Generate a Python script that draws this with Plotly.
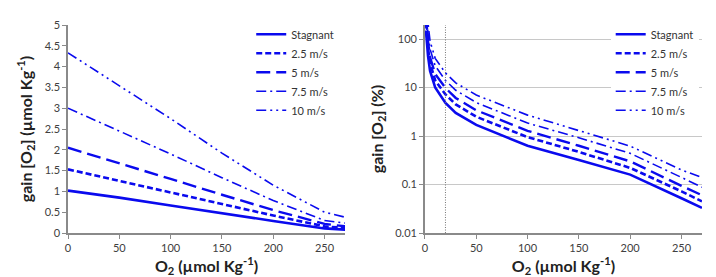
import plotly.graph_objects as go
from plotly.subplots import make_subplots

series_names = ["Stagnant", "2.5 m/s", "5 m/s", "7.5 m/s", "10 m/s"]

# Left panel: absolute gain (µmol/kg)
x_abs = [0, 50, 100, 150, 200, 250, 270]
gain_abs = {
    "Stagnant": [1.02, 0.85, 0.66, 0.47, 0.29, 0.11, 0.08],
    "2.5 m/s": [1.53, 1.25, 0.97, 0.69, 0.42, 0.16, 0.12],
    "5 m/s": [2.05, 1.68, 1.30, 0.92, 0.55, 0.22, 0.16],
    "7.5 m/s": [3.00, 2.45, 1.90, 1.33, 0.78, 0.30, 0.24],
    "10 m/s": [4.33, 3.55, 2.75, 1.92, 1.15, 0.50, 0.38],
}

# Right panel: relative gain (%)
x_rel = [1, 2, 3, 5, 10, 20, 30, 50, 100, 150, 200, 250, 270]
gain_rel = {
    "Stagnant": [150, 80, 45, 22, 10, 4.8, 3.0, 1.7, 0.63, 0.32, 0.16, 0.052, 0.033],
    "2.5 m/s": [220, 110, 65, 32, 14, 7.2, 4.5, 2.5, 0.95, 0.47, 0.22, 0.072, 0.045],
    "5 m/s": [300, 150, 90, 42, 19, 9.8, 6.1, 3.4, 1.28, 0.63, 0.30, 0.094, 0.060],
    "7.5 m/s": [400, 210, 130, 62, 28, 14, 8.8, 4.9, 1.85, 0.92, 0.44, 0.14, 0.088],
    "10 m/s": [500, 300, 180, 90, 40, 20, 12.5, 7.0, 2.7, 1.3, 0.62, 0.20, 0.14],
}

x_ticks = [0, 50, 100, 150, 200, 250]
left_y_ticks = [0, 0.5, 1, 1.5, 2, 2.5, 3, 3.5, 4, 4.5, 5]
left_y_labels = ["0", "0.5", "1", "1.5", "2", "2.5", "3", "3.5", "4", "4.5", "5"]
right_y_ticks = [0.01, 0.1, 1, 10, 100]
right_y_labels = ["0.01", "0.1", "1", "10", "100"]
threshold_x = 20

blue = "#0a0aee"
styles = {
    "Stagnant": dict(width=2.6, dash="solid"),
    "2.5 m/s": dict(width=2.6, dash="6px,3px"),
    "5 m/s": dict(width=2.4, dash="14px,6px"),
    "7.5 m/s": dict(width=1.6, dash="10px,4px,2px,4px"),
    "10 m/s": dict(width=1.6, dash="10px,4px,2px,4px,2px,4px"),
}

fig = make_subplots(rows=1, cols=2, horizontal_spacing=0.126)
fig.update_layout(template="none")

for name in series_names:
    fig.add_trace(go.Scatter(x=x_abs, y=gain_abs[name], mode="lines", name=name,
                             line=dict(color=blue, **styles[name]),
                             legend="legend"), row=1, col=1)
for name in series_names:
    fig.add_trace(go.Scatter(x=x_rel, y=gain_rel[name], mode="lines", name=name,
                             line=dict(color=blue, **styles[name]),
                             legend="legend2"), row=1, col=2)

font_family = "Lato, Open Sans, sans-serif"
tickfont = dict(family=font_family, size=11, color="#404040")
titlefont = dict(family=font_family, size=16, color="#222222")

axis_common = dict(showline=True, linecolor="#8a8a8a", linewidth=1.5,
                   ticks="outside", ticklen=4, tickcolor="#8a8a8a",
                   tickfont=tickfont, zeroline=False, automargin=False)

xtitle = "<b>O<sub>2</sub> (µmol Kg<sup>-1</sup>)</b>"
fig.update_xaxes(range=[0, 270], tickvals=x_ticks, showgrid=False,
                 title=dict(text=xtitle, font=titlefont, standoff=4), **axis_common)
fig.update_yaxes(range=[0, 5], tickvals=left_y_ticks, ticktext=left_y_labels,
                 showgrid=False,
                 title=dict(text="<b>gain [O<sub>2</sub>] (µmol Kg<sup>-1</sup>)</b>",
                            font=titlefont, standoff=8),
                 row=1, col=1, **axis_common)
fig.update_yaxes(type="log", range=[-2, 2.29], tickvals=right_y_ticks,
                 ticktext=right_y_labels, showgrid=True, gridcolor="#c8c8c8",
                 gridwidth=1,
                 title=dict(text="<b>gain [O<sub>2</sub>] (%)</b>", font=titlefont,
                            standoff=8),
                 row=1, col=2, **axis_common)

fig.add_shape(type="line", x0=threshold_x, x1=threshold_x, y0=0, y1=1,
              xref="x2", yref="y2 domain",
              line=dict(color="#777777", width=1, dash="1px,1.5px"))

legend_common = dict(font=dict(family=font_family, size=11, color="#333333"),
                     bgcolor="white", borderwidth=0, itemwidth=30,
                     xanchor="left", yanchor="top", tracegroupgap=0)

fig.update_layout(
    width=716, height=277,
    margin=dict(l=60, r=22, t=15, b=52),
    paper_bgcolor="white", plot_bgcolor="white",
    legend=dict(x=0.289, y=1.025, **legend_common),
    legend2=dict(x=0.856, y=1.025, **legend_common),
    showlegend=True,
)

fig.write_html("out.html")
